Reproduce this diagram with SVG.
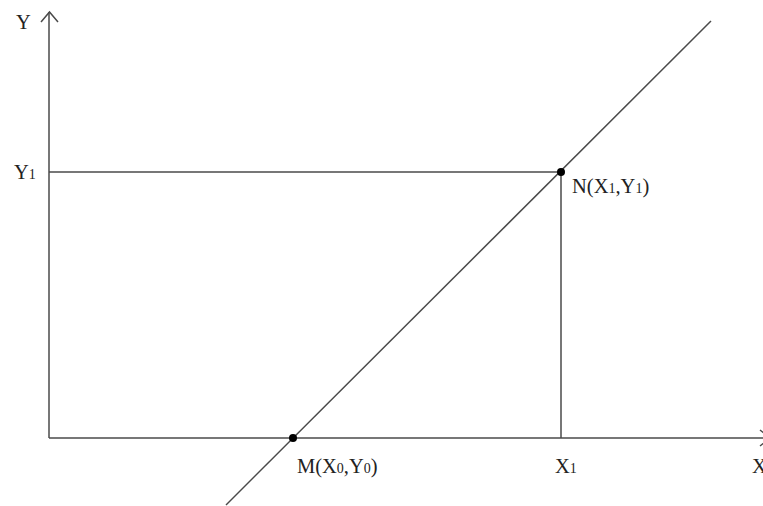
<svg xmlns="http://www.w3.org/2000/svg" width="763" height="506" viewBox="0 0 763 506">
<style>
.ln{stroke:#4a4a4a;stroke-width:1.5;fill:none}
.t{font-family:"Liberation Serif","Times New Roman",serif;font-size:20.5px;fill:#222}
.s{font-size:14px}
.dot{fill:#000}
</style>
<rect width="763" height="506" fill="#fff"/>
<g id="connectors">
<line class="ln" x1="49" y1="438" x2="49" y2="12"/>
<polyline class="ln" points="41,22 49.5,12 58,22"/>
<line class="ln" x1="49" y1="438" x2="763" y2="438"/>
<polyline class="ln" points="760,430 770,438 760,446"/>
<line class="ln" x1="226" y1="505" x2="711" y2="21"/>
<line class="ln" x1="49" y1="172" x2="561" y2="172"/>
<line class="ln" x1="561" y1="172" x2="561" y2="438"/>
</g>
<g id="axis-y-label"><text class="t" x="16" y="29">Y</text></g>
<g id="y1-label"><text class="t" x="14" y="179">Y<tspan class="s">1</tspan></text></g>
<g id="x1-label"><text class="t" x="555" y="473">X<tspan class="s">1</tspan></text></g>
<g id="axis-x-label"><text class="t" x="752" y="473">X</text></g>
<g id="point-N">
<circle class="dot" cx="561" cy="172" r="4"/>
<text class="t" x="572" y="193">N(X<tspan class="s">1</tspan>,Y<tspan class="s">1</tspan>)</text>
</g>
<g id="point-M">
<circle class="dot" cx="293" cy="438" r="4"/>
<text class="t" x="297" y="473">M(X<tspan class="s">0</tspan>,Y<tspan class="s">0</tspan>)</text>
</g>
</svg>
